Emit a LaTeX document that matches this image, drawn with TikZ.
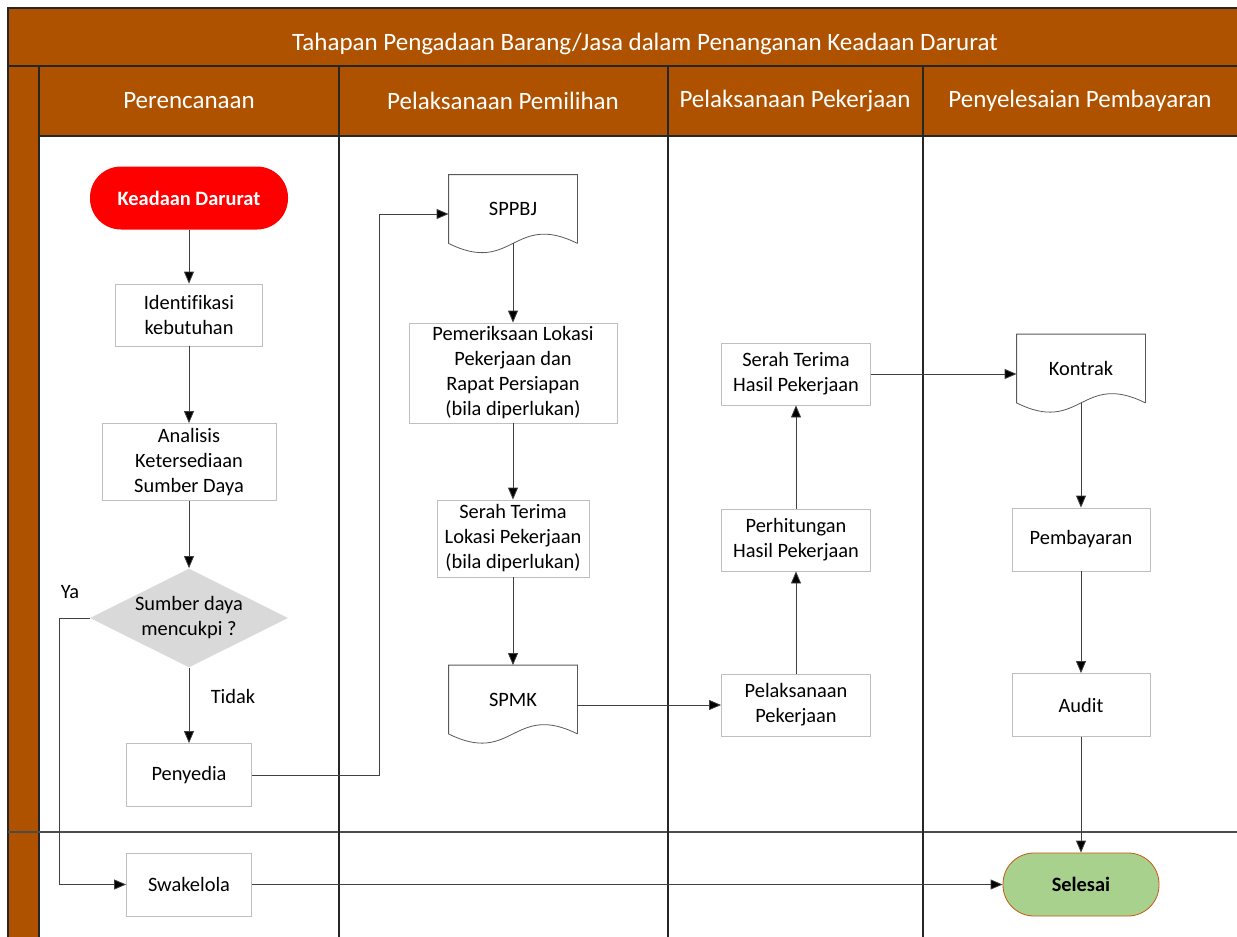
\documentclass[tikz,border=0pt]{standalone}
\usepackage{fontspec}
\setmainfont{Carlito}[Ligatures=NoCommon]
\usepackage{tikz}
\usetikzlibrary{shapes.geometric}
\usetikzlibrary{arrows.meta}
\definecolor{lanebrown}{RGB}{174,82,0}
\definecolor{boxgray}{RGB}{191,191,191}
\definecolor{docgray}{RGB}{89,89,89}
\definecolor{condgray}{RGB}{217,217,217}
\definecolor{endgreen}{RGB}{169,209,142}
\definecolor{endbrown}{RGB}{197,90,17}
\tikzset{box/.style={rectangle,draw=boxgray,fill=white,align=center,inner sep=1pt,font=\fontsize{10.2}{12.5}\selectfont}}
\tikzset{docu/.style={rectangle,align=center,minimum width=64pt,minimum height=34pt,inner sep=1pt,font=\fontsize{10.2}{12.5}\selectfont}}
\tikzset{term/.style={rectangle,rounded corners=15.5pt,minimum height=31.5pt,font=\bfseries\fontsize{10.2}{12.5}\selectfont}}
\tikzset{cond/.style={diamond,aspect=2,fill=condgray,inner sep=0pt,minimum width=99pt,minimum height=49.5pt,align=center,font=\fontsize{10.2}{12.5}\selectfont}}
\tikzset{hdr/.style={text=white,font=\fontsize{12.5}{14}\selectfont}}
\tikzset{lbl/.style={font=\fontsize{10.2}{12.5}\selectfont}}
\tikzset{flow/.style={draw=black!75,-{Triangle[length=6pt,width=5pt,fill=black]}}}
\tikzset{lane/.style={draw=black!85,line width=0.6pt}}
\newcommand{\docwave}[1]{\draw[docgray] (#1.south east) -- (#1.north east) -- (#1.north west) -- (#1.south west) .. controls +(64,32) and +(-64,-32) .. (#1.south east);}

\begin{document}
\begin{tikzpicture}[x=0.5pt,y=-0.5pt]
            \useasboundingbox (0,0) rectangle (1237,937);
            % swimlane frame
            \fill[lanebrown] (8,8) rectangle (1237,66);
            \fill[lanebrown] (8,66) rectangle (39,937);
            \fill[lanebrown] (39,66) rectangle (1237,136);
            \draw[lane] (1237,8) -- (8,8) -- (8,937);
            \draw[lane] (8,66) -- (1237,66);
            \draw[lane] (39,66) -- (39,937);
            \draw[lane] (39,136) -- (1237,136);
            \draw[lane,black!70] (8,832) -- (1237,832);
            \foreach \x in {339,668,923}
                \draw[lane] (\x,66) -- (\x,937);

            \node[hdr] (judul) at (645,44) {Tahapan Pengadaan Barang/Jasa dalam Penanganan Keadaan Darurat};
            \node[hdr] (perencanaan) at (189,101) {Perencanaan};
            \node[hdr] (pemilihan) at (503,101) {Pelaksanaan Pemilihan};
            \node[hdr] (pekerjaan) at (795,101) {Pelaksanaan Pekerjaan};
            \node[hdr] (pembayaran) at (1080,101) {Penyelesaian Pembayaran};

            % perencanaan
            \node[term,fill=red,text=white,minimum width=99pt] (darurat) at (189,198) {Keadaan Darurat};
            \node[box,minimum width=73.5pt,minimum height=31pt] (ident) at (189,315) {Identifikasi\\kebutuhan};
            \node[box,minimum width=87pt,minimum height=38.5pt] (analisis) at (189,462) {Analisis\\Ketersediaan\\Sumber Daya};
            \node[cond] (cek) at (189,618) {Sumber daya\\mencukpi ?};
            \node[box,minimum width=62.5pt,minimum height=31.5pt] (penyedia) at (189,775) {Penyedia};
            \node[box,minimum width=62.5pt,minimum height=31.5pt] (swakelola) at (189,884.5) {Swakelola};
            \node[lbl] (ya) at (70,592) {Ya};
            \node[lbl] (tidak) at (233,696) {Tidak};

            % pemilihan
            \node[docu] (sppbj) at (513,209) {SPPBJ};
            \docwave{sppbj}
            \node[box,minimum width=104pt,minimum height=50pt] (periksa) at (513,373) {Pemeriksaan Lokasi\\Pekerjaan dan\\Rapat Persiapan\\(bila diperlukan)};
            \node[box,minimum width=76pt,minimum height=38.5pt] (serahlokasi) at (513,538.5) {Serah Terima\\Lokasi Pekerjaan\\(bila diperlukan)};
            \node[docu] (spmk) at (513,699.5) {SPMK};
            \docwave{spmk}

            % pekerjaan
            \node[box,minimum width=74.5pt,minimum height=31pt] (laksana) at (796,705) {Pelaksanaan\\Pekerjaan};
            \node[box,minimum width=74.5pt,minimum height=31pt] (hitung) at (796,540) {Perhitungan\\Hasil Pekerjaan};
            \node[box,minimum width=74.5pt,minimum height=31pt] (serahhasil) at (796,374) {Serah Terima\\Hasil Pekerjaan};

            % pembayaran
            \node[docu] (kontrak) at (1081,368.5) {Kontrak};
            \docwave{kontrak}
            \node[box,minimum width=69pt,minimum height=31.5pt] (bayar) at (1081,539.5) {Pembayaran};
            \node[box,minimum width=69pt,minimum height=31.5pt] (audit) at (1081,705) {Audit};
            \node[term,fill=endgreen,draw=endbrown,minimum width=78pt] (selesai) at (1081,884.5) {Selesai};

            \draw[flow] (darurat) -- (ident);
            \draw[flow] (ident) -- (analisis);
            \draw[flow] (analisis) -- (cek);
            \draw[flow] (cek) -- (penyedia);
            \draw[flow] (cek.west) -- ++(-30,0) |- (swakelola.west);
            \draw[flow] (penyedia.east) -- ++(127,0) |- ([yshift=-2.5pt]sppbj.west);
            \draw[flow] (sppbj.south) -- (periksa);
            \draw[flow] (periksa) -- (serahlokasi);
            \draw[flow] (serahlokasi) -- (spmk);
            \draw[flow] (spmk.east |- laksana.west) -- (laksana.west);
            \draw[flow] (laksana) -- (hitung);
            \draw[flow] (hitung) -- (serahhasil);
            \draw[flow] (serahhasil.east) -- (kontrak.west |- serahhasil.east);
            \draw[flow] (kontrak.south) -- (bayar);
            \draw[flow] (bayar) -- (audit);
            \draw[flow] (audit) -- (selesai);
            \draw[flow] (swakelola) -- (selesai);
        \end{tikzpicture}
\end{document}
